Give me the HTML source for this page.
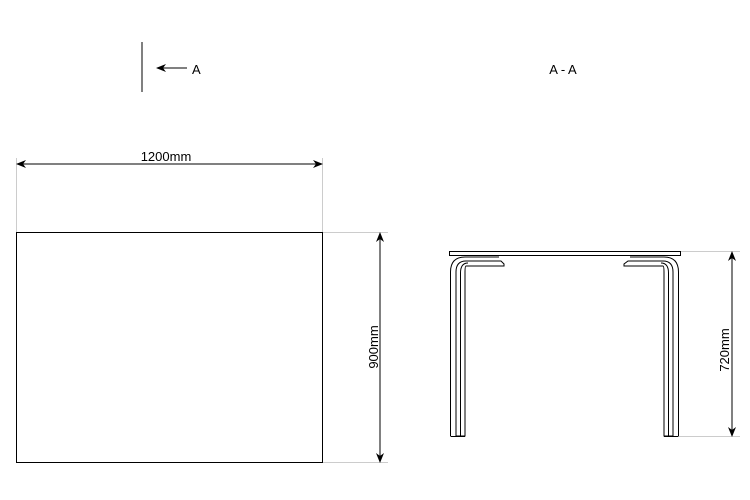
<!DOCTYPE html>
<html><head><style>body{margin:0;background:#fff}svg{display:block}</style></head><body>
<svg width="750" height="500" xmlns="http://www.w3.org/2000/svg" font-family="Liberation Sans, sans-serif">
<defs>
<marker id="a" markerWidth="10" markerHeight="8" refX="9" refY="4" orient="auto-start-reverse" markerUnits="userSpaceOnUse"><path d="M0,0 L10,4 L0,8 L3,4 Z" fill="#000"/></marker>
</defs>
<line x1="142" y1="42" x2="142" y2="92" stroke="#000"/>
<line x1="187" y1="68" x2="157" y2="68" stroke="#000" marker-end="url(#a)"/>
<text x="192" y="74" font-size="13">A</text>
<text x="563" y="74" font-size="13" text-anchor="middle">A - A</text>
<rect x="16.5" y="232.5" width="306" height="230" fill="none" stroke="#000"/>
<line x1="16.5" y1="158" x2="16.5" y2="232" stroke="#ccc"/>
<line x1="322.5" y1="158" x2="322.5" y2="232" stroke="#ccc"/>
<line x1="17" y1="164" x2="322" y2="164" stroke="#000" marker-start="url(#a)" marker-end="url(#a)"/>
<text x="166" y="161" font-size="13" text-anchor="middle">1200mm</text>
<line x1="323" y1="232.5" x2="388" y2="232.5" stroke="#ccc"/>
<line x1="323" y1="462.5" x2="388" y2="462.5" stroke="#ccc"/>
<line x1="380" y1="233" x2="380" y2="462" stroke="#000" marker-start="url(#a)" marker-end="url(#a)"/>
<text transform="translate(378,347) rotate(-90)" font-size="13" text-anchor="middle">900mm</text>
<rect x="449.5" y="251.5" width="231" height="4" fill="none" stroke="#000"/>
<g fill="none" stroke="#000">
<path d="M450.5,436 V272 Q450.5,257 465,257 H499"/>
<path d="M456,436 V272 Q456,261 466,261 H501 L504,264 V266 H466 Q465,266 465,272 V436 Z" />
<path d="M460.5,436 V273 Q460.5,263 468,263"/>
<line x1="450.5" y1="436.5" x2="465" y2="436.5"/>
<path d="M678.5,436 V272 Q678.5,257 664,257 H630"/>
<path d="M673,436 V272 Q673,261 663,261 H628 L624,264 V266 H663 Q664,266 664,272 V436 Z"/>
<path d="M668.5,436 V273 Q668.5,263 661,263"/>
<line x1="664" y1="436.5" x2="678.5" y2="436.5"/>
</g>
<line x1="681" y1="251.5" x2="740" y2="251.5" stroke="#ccc"/>
<line x1="679" y1="436.5" x2="740" y2="436.5" stroke="#ccc"/>
<line x1="732" y1="252" x2="732" y2="436" stroke="#000" marker-start="url(#a)" marker-end="url(#a)"/>
<text transform="translate(729,350) rotate(-90)" font-size="13" text-anchor="middle">720mm</text>
</svg>
</body></html>
